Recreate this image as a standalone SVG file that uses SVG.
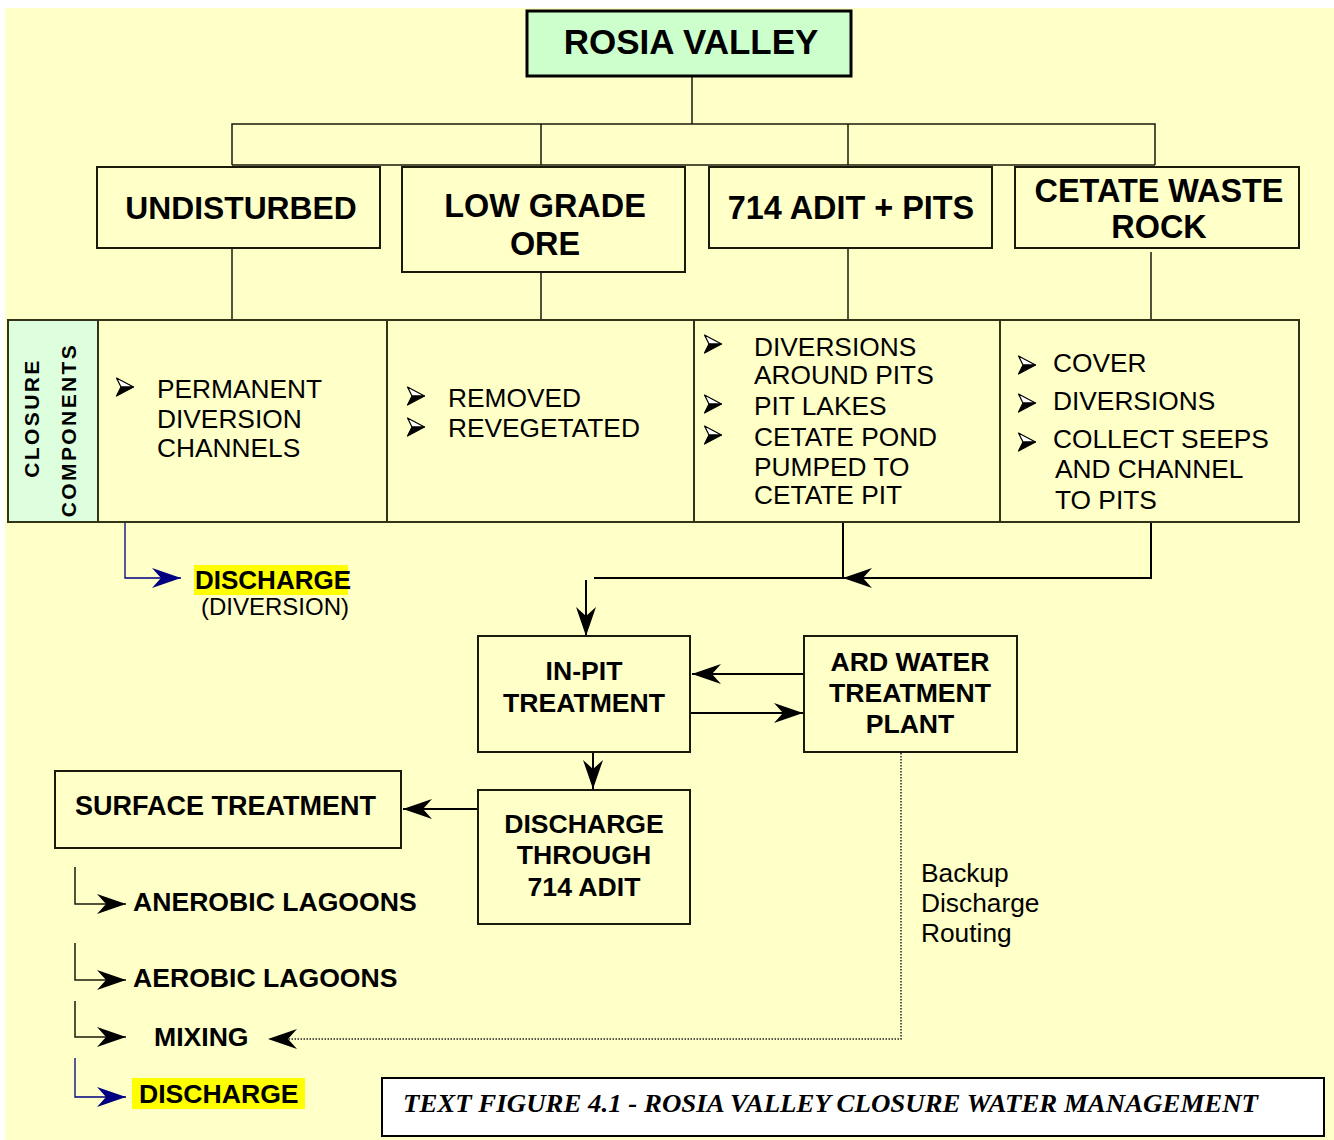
<svg xmlns="http://www.w3.org/2000/svg" width="1334" height="1140" viewBox="0 0 1334 1140">
<style>
.box{fill:#FFFFC8;stroke:#1a1a0a;stroke-width:2}
.hb{font-family:"Liberation Sans",Arial,sans-serif;font-weight:bold;font-size:32.4px;fill:#000;text-anchor:middle}
.b26{font-family:"Liberation Sans",Arial,sans-serif;font-weight:bold;font-size:26.6px;fill:#000}
.r26{font-family:"Liberation Sans",Arial,sans-serif;font-size:26.3px;fill:#000}
.ln{fill:none;stroke:#000;stroke-width:2}
.thin{fill:none;stroke:#1a1a0a;stroke-width:1.5}
.tbl{fill:none;stroke:#333318;stroke-width:2}
.blue{fill:none;stroke:#000080;stroke-width:1.3}
.mid{text-anchor:middle}
</style>
<defs>
<marker id="ah" markerUnits="userSpaceOnUse" viewBox="0 0 29 20" refX="29" refY="10" markerWidth="29" markerHeight="20" orient="auto">
<path d="M29,10 L0,0 L9,10 L0,20 Z" fill="#000"/>
</marker>
<marker id="ahb" markerUnits="userSpaceOnUse" viewBox="0 0 29 20" refX="29" refY="10" markerWidth="29" markerHeight="20" orient="auto">
<path d="M29,10 L0,0 L9,10 L0,20 Z" fill="#000080"/>
</marker>
<g id="bullet">
<path d="M0.5,1 L17.5,10 L5,10 Z" fill="#fff" stroke="#000" stroke-width="1.2" stroke-linejoin="round"/>
<path d="M5,10 L17.5,10 L0.5,19 Z" fill="#000" stroke="#000" stroke-width="1.2" stroke-linejoin="round"/>
</g>
</defs>
<rect x="0" y="0" width="1334" height="1140" fill="#fff"/>
<rect x="5" y="8" width="1329" height="1132" fill="#FFFFC8"/>

<g id="connectors">
<path class="thin" d="M692,77 V124"/>
<path class="thin" d="M232,165 V124 H1155 V165 M232,165 H1155 M541,124 V165 M848,124 V165"/>
<path class="thin" d="M232,248 V320 M541,272 V320 M848,248 V320 M1151,252 V329"/>
<path class="ln" d="M843,522 V578"/>
<path class="ln" d="M1151,522 V578 H843" marker-end="url(#ah)"/>
<path class="ln" d="M843,578 H594"/>
<path class="ln" d="M586,580 V636" marker-end="url(#ah)"/>
<path class="ln" d="M804,674 H692" marker-end="url(#ah)"/>
<path class="ln" d="M690,713 H803" marker-end="url(#ah)"/>
<path class="ln" d="M593,752 V789" marker-end="url(#ah)"/>
<path class="ln" d="M478,809 H403" marker-end="url(#ah)"/>
<path class="blue" d="M125,522 V578 H181" marker-end="url(#ahb)"/>
<path class="thin" d="M75,867 V904 H126" marker-end="url(#ah)"/>
<path class="thin" d="M75,943 V980 H126" marker-end="url(#ah)"/>
<path class="thin" d="M75,1001 V1037 H126" marker-end="url(#ah)"/>
<path class="blue" d="M75,1058 V1097 H126" marker-end="url(#ahb)"/>
<path fill="none" stroke="#222" stroke-width="1.5" stroke-dasharray="1.5,1.5" d="M901,753 V1039 H270"/>
<path d="M268,1039 L297,1029 L288,1039 L297,1049 Z" fill="#000"/>
</g>

<g id="rosia-valley">
<rect x="527" y="11" width="324" height="65" fill="#CCFFCC" stroke="#000" stroke-width="3"/>
<text class="hb" x="691" y="54" style="font-size:35px">ROSIA VALLEY</text>
</g>
<g id="undisturbed">
<rect class="box" x="97" y="167" width="283" height="81"/>
<text class="hb" x="241" y="219" style="font-size:31.8px">UNDISTURBED</text>
</g>
<g id="low-grade-ore">
<rect class="box" x="402" y="167" width="283" height="105"/>
<text class="hb" x="545" y="217">LOW GRADE</text>
<text class="hb" x="545" y="255">ORE</text>
</g>
<g id="adit-pits">
<rect class="box" x="709" y="167" width="283" height="81"/>
<text class="hb" x="851" y="219">714 ADIT + PITS</text>
</g>
<g id="cetate-waste-rock">
<rect class="box" x="1015" y="167" width="284" height="81"/>
<text class="hb" x="1159" y="202">CETATE WASTE</text>
<text class="hb" x="1159" y="238">ROCK</text>
</g>

<g id="closure-table">
<rect x="8" y="320" width="90" height="202" fill="#DDFFDD"/>
<rect x="98" y="320" width="1201" height="202" fill="#FFFFC8"/>
<rect class="tbl" x="8" y="320" width="1291" height="202"/>
<path class="tbl" d="M98,320 V522 M387,320 V522 M694,320 V522 M1000,320 V522"/>
<text class="b26" transform="translate(39,418) rotate(-90)" style="font-size:21px;letter-spacing:2.4px;text-anchor:middle">CLOSURE</text>
<text class="b26" transform="translate(76,430) rotate(-90)" style="font-size:21px;letter-spacing:2.4px;text-anchor:middle">COMPONENTS</text>
</g>
<g id="undisturbed-components">
<use href="#bullet" x="116" y="377"/>
<text class="r26" x="157" y="398">PERMANENT</text>
<text class="r26" x="157" y="428">DIVERSION</text>
<text class="r26" x="157" y="457">CHANNELS</text>
</g>
<g id="low-grade-components">
<use href="#bullet" x="407" y="386"/>
<text class="r26" x="448" y="407">REMOVED</text>
<use href="#bullet" x="407" y="417"/>
<text class="r26" x="448" y="437">REVEGETATED</text>
</g>
<g id="adit-components">
<use href="#bullet" x="704" y="334"/>
<text class="r26" x="754" y="356">DIVERSIONS</text>
<text class="r26" x="754" y="384">AROUND PITS</text>
<use href="#bullet" x="704" y="394"/>
<text class="r26" x="754" y="415">PIT LAKES</text>
<use href="#bullet" x="704" y="425"/>
<text class="r26" x="754" y="446">CETATE POND</text>
<text class="r26" x="754" y="476">PUMPED TO</text>
<text class="r26" x="754" y="504">CETATE PIT</text>
</g>
<g id="cetate-components">
<use href="#bullet" x="1018" y="355"/>
<text class="r26" x="1053" y="372">COVER</text>
<use href="#bullet" x="1018" y="393"/>
<text class="r26" x="1053" y="410">DIVERSIONS</text>
<use href="#bullet" x="1018" y="432"/>
<text class="r26" x="1053" y="448">COLLECT SEEPS</text>
<text class="r26" x="1055" y="478">AND CHANNEL</text>
<text class="r26" x="1055" y="509">TO PITS</text>
</g>

<g id="discharge-diversion">
<rect x="194" y="565" width="154" height="30" fill="#FFFF00"/>
<text class="b26" x="195" y="589" style="font-size:26px">DISCHARGE</text>
<text class="r26" x="201" y="615" style="font-size:24px">(DIVERSION)</text>
</g>

<g id="in-pit-treatment">
<rect class="box" x="478" y="636" width="212" height="116"/>
<text class="b26 mid" x="584" y="680">IN-PIT</text>
<text class="b26 mid" x="584" y="712">TREATMENT</text>
</g>
<g id="ard-plant">
<rect class="box" x="804" y="636" width="213" height="116"/>
<text class="b26 mid" x="910" y="671">ARD WATER</text>
<text class="b26 mid" x="910" y="702">TREATMENT</text>
<text class="b26 mid" x="910" y="733">PLANT</text>
</g>
<g id="discharge-through-adit">
<rect class="box" x="478" y="790" width="212" height="134"/>
<text class="b26 mid" x="584" y="833">DISCHARGE</text>
<text class="b26 mid" x="584" y="864">THROUGH</text>
<text class="b26 mid" x="584" y="896">714 ADIT</text>
</g>
<g id="surface-treatment">
<rect class="box" x="55" y="771" width="346" height="77"/>
<text class="b26" x="75" y="815" style="font-size:27px">SURFACE TREATMENT</text>
</g>
<g id="anerobic-lagoons">
<text class="b26" x="133" y="911">ANEROBIC LAGOONS</text>
</g>
<g id="aerobic-lagoons">
<text class="b26" x="133" y="987">AEROBIC LAGOONS</text>
</g>
<g id="mixing">
<text class="b26" x="154" y="1046">MIXING</text>
</g>
<g id="final-discharge">
<rect x="132" y="1078" width="173" height="31" fill="#FFFF00"/>
<text class="b26" x="139" y="1103">DISCHARGE</text>
</g>
<g id="backup-label">
<text class="r26" x="921" y="882">Backup</text>
<text class="r26" x="921" y="912">Discharge</text>
<text class="r26" x="921" y="942">Routing</text>
</g>
<g id="caption">
<rect x="382" y="1078" width="942" height="58" fill="#fff" stroke="#000" stroke-width="2"/>
<text x="403" y="1112" style="font-family:'Liberation Serif','Times New Roman',serif;font-weight:bold;font-style:italic;font-size:25px" textLength="855" lengthAdjust="spacingAndGlyphs">TEXT FIGURE 4.1 - ROSIA VALLEY CLOSURE WATER MANAGEMENT</text>
</g>
</svg>
